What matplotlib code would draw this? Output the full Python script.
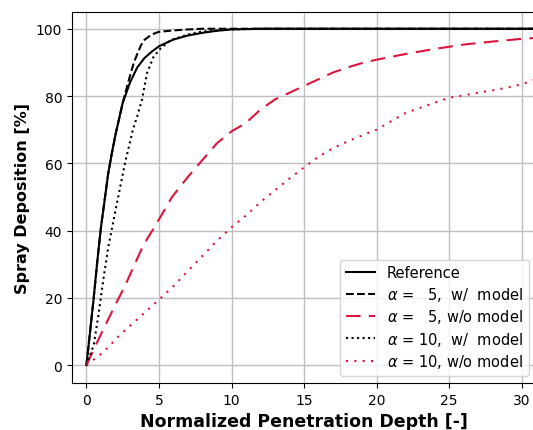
import numpy as np
import matplotlib
matplotlib.use("Agg")
import matplotlib.pyplot as plt

# Reference curve
ref_x = [0, 0.25, 0.5, 0.75, 1, 1.25, 1.5, 1.75, 2, 2.5, 3, 3.5, 4, 4.5, 5,
         6, 7, 8, 9, 10, 12, 31]
ref_y = [0, 10, 20, 31, 41, 49, 57, 63, 68.5, 78, 84, 88.5, 91.3, 93.2, 94.8,
         96.8, 98, 98.8, 99.4, 99.8, 100, 100]

# alpha = 5, with model
a5m_x = [0, 0.25, 0.5, 0.75, 1, 1.25, 1.5, 1.75, 2, 2.5, 2.75, 3, 3.25, 3.5,
         3.75, 4, 4.5, 5, 6, 7, 8, 31]
a5m_y = [0, 10, 20, 31, 41, 49, 57, 63, 68.5, 78, 82, 86, 89.7, 92.5,
         95, 96.7, 98.3, 99.1, 99.5, 99.8, 100, 100]

# alpha = 5, without model
a5_x = [0, 0.6, 1.2, 2, 2.7, 3.9, 4.75, 5.9, 7, 8, 9, 10, 11, 12, 13, 14, 15,
        16, 17, 18, 19, 20, 22, 24, 26, 28, 30, 31]
a5_y = [0, 5.6, 11, 18, 24, 35.5, 41.5, 50, 56, 61, 66, 69.5, 72, 76, 79, 81,
        83, 85, 87, 88.5, 89.8, 90.8, 92.5, 94, 95.3, 96.2, 97, 97.3]

# alpha = 10, with model
a10m_x = [0, 0.5, 0.83, 1.17, 1.5, 2, 2.68, 3.2, 3.5, 3.83, 4.17, 4.63, 5.1,
          5.8, 7, 8, 10, 12, 31]
a10m_y = [0, 6, 15, 25.7, 35, 46, 60.5, 70, 74, 79, 86.8, 91.7, 94.1,
          96.6, 98.3, 99.2, 99.8, 100, 100]

# alpha = 10, without model
a10_x = [0, 1.2, 2.3, 3.7, 5, 6, 7, 8, 9, 10, 11, 12, 13, 14, 15, 16, 17, 18,
         19, 20, 21, 22, 23, 24, 25, 26, 27, 28, 29, 30, 31]
a10_y = [0, 4, 9, 14.4, 19.5, 23.5, 28, 32.5, 37, 41, 44.5, 48.5, 52, 55.5,
         58.8, 62, 64.5, 66.5, 68.3, 70, 72.5, 75, 76.5, 78, 79.5, 80.2, 81,
         81.7, 82.5, 83.5, 85]

red = "#DC143C"

fig = plt.figure(figsize=(5.33, 4.31), dpi=100)
ax = fig.add_axes([0.135, 0.109, 0.871, 0.861])

ax.plot(ref_x, ref_y, color="black", lw=1.5, label="Reference")
ax.plot(a5m_x, a5m_y, color="black", lw=1.5, linestyle="--",
        label=r"$\alpha$ =   5,  w/  model")
ax.plot(a5_x, a5_y, color=red, lw=1.5, linestyle=(0, (7, 4)),
        label=r"$\alpha$ =   5, w/o model")
ax.plot(a10m_x, a10m_y, color="black", lw=1.5, linestyle=":",
        label=r"$\alpha$ = 10,  w/  model")
ax.plot(a10_x, a10_y, color=red, lw=1.5, linestyle=(0, (1, 3)),
        label=r"$\alpha$ = 10, w/o model")

ax.set_xlim(-1, 31)
ax.set_ylim(-5.3, 105)
ax.set_xticks([0, 5, 10, 15, 20, 25, 30])
ax.set_yticks([0, 20, 40, 60, 80, 100])
ax.tick_params(labelsize=10)
ax.grid(True, color="#c0c0c0", lw=1)
ax.set_axisbelow(True)

ax.set_xlabel("Normalized Penetration Depth [-]", fontsize=12.5, fontweight="bold")
ax.set_ylabel("Spray Deposition [%]", fontsize=11.5, fontweight="bold")

ax.legend(loc="lower right", fontsize=10.5, labelspacing=0.3)

fig.savefig("out.png", dpi=100)
